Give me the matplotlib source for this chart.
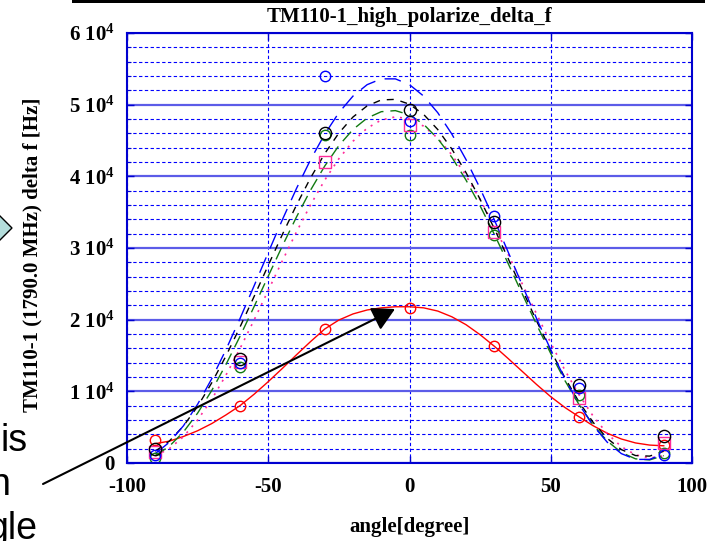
import matplotlib
matplotlib.use("Agg")
import matplotlib.pyplot as plt
from matplotlib.patches import Polygon, FancyArrowPatch, Rectangle
from matplotlib.ticker import MultipleLocator, FixedLocator

plt.rcParams['font.family'] = ['Liberation Serif', 'DejaVu Serif']
plt.rcParams['font.weight'] = 'bold'
plt.rcParams['mathtext.fontset'] = 'custom'
plt.rcParams['mathtext.rm'] = 'Liberation Serif:bold'
plt.rcParams['mathtext.bf'] = 'Liberation Serif:bold'
plt.rcParams['mathtext.it'] = 'Liberation Serif:bold'

# ---------------- data ----------------
title = "TM110-1_high_polarize_delta_f"
xlabel = "angle[degree]"
ylabel = "TM110-1 (1790.0 MHz) delta f [Hz]"

angles = [-90, -60, -30, 0, 30, 60, 90]
blue_pts = [1150, 14000, 54000, 47700, 34400, 10500, 1150]
black_pts = [2000, 14500, 46000, 49200, 33600, 10900, 3700]
green_pts = [700, 13400, 45700, 45800, 31850, 9500, 1450]
magenta_pts = [1500, 14050, 42000, 47100, 32200, 9050, 2750]
red_pts = [3250, 8000, 18700, 21650, 16300, 6450, 2550]

fit_angles = [-90, -85, -80, -75, -70, -65, -60, -55, -50, -45, -40, -35, -30,
              -25, -20, -15, -10, -5, 0, 5, 10, 15, 20, 25, 30, 35, 40, 45,
              50, 55, 60, 65, 70, 75, 80, 85, 90]
blue_fit = [1300, 2900, 5200, 8200, 11760, 15790, 20150, 24730, 29370, 33950,
            38310, 42340, 45890, 48880, 51200, 52790, 53600, 53600, 52790,
            51200, 48880, 45890, 42340, 38310, 33950, 29370, 24730, 20150,
            15790, 11760, 8200, 5220, 2900, 1310, 500, 500, 1310]
black_fit = [1640, 3060, 5170, 7900, 11190, 14910, 18970, 23240, 27590, 31890,
             36000, 39800, 43180, 46040, 48280, 49830, 50660, 50740, 50060,
             48640, 46530, 43800, 40520, 36790, 32730, 28460, 24110, 19810,
             15700, 11900, 8520, 5670, 3430, 1870, 1040, 960, 1640]
green_fit = [1030, 2340, 4340, 6960, 10120, 13720, 17670, 21830, 26080, 30290,
             34330, 38090, 41440, 44290, 46540, 48130, 49020, 49170, 48580,
             47260, 45260, 42650, 39480, 35880, 31930, 27770, 23520, 19310,
             15270, 11510, 8160, 5310, 3060, 1470, 580, 430, 1030]
magenta_fit = [990, 2000, 3680, 6000, 8890, 12240, 15970, 19960, 24090, 28220,
               32250, 36040, 39480, 42460, 44900, 46720, 47860, 48300, 48010,
               47000, 45320, 43000, 40110, 36760, 33030, 29040, 24920, 20780,
               16750, 12960, 9520, 6540, 4100, 2280, 1140, 700, 990]
red_fit = [2700, 3050, 3700, 4500, 5500, 6700, 8000, 9600, 11350, 13200, 15100,
           16950, 18700, 19950, 20800, 21350, 21650, 21800, 21800, 21650, 21200,
           20400, 19300, 17900, 16300, 14550, 12750, 10950, 9250, 7750, 6450,
           5200, 4150, 3350, 2800, 2500, 2400]

xticks = [-100, -50, 0, 50, 100]
xtick_labels = ["-100", "-50", "0", "50", "100"]
yticks = [0, 10000, 20000, 30000, 40000, 50000, 60000]
ytick_labels = ["0", r"1 $\mathrm{10^{4}}$", r"2 $\mathrm{10^{4}}$", r"3 $\mathrm{10^{4}}$",
                r"4 $\mathrm{10^{4}}$", r"5 $\mathrm{10^{4}}$", r"6 $\mathrm{10^{4}}$"]

# ---------------- figure ----------------
W, H = 710, 541
fig = plt.figure(figsize=(W / 100, H / 100), dpi=100)
L, R, T, B = 127, 692, 33, 463
ax = fig.add_axes([L / W, 1 - B / H, (R - L) / W, (B - T) / H])

ax.set_xlim(-100, 100)
ax.set_ylim(0, 60000)

# grid
ax.yaxis.set_minor_locator(MultipleLocator(2000))
ax.grid(which='major', axis='y', color='#5c5ce8', lw=1.6, ls='-', zorder=0)
ax.grid(which='minor', axis='y', color='#0000ff', lw=0.8, ls=(0, (3, 2.2)), zorder=0)
ax.grid(which='major', axis='x', color='#0000ff', lw=0.8, ls=(0, (3, 2.2)), zorder=0)
ax.set_axisbelow(True)

# fit curves
ax.plot(fit_angles, red_fit, color='#ff0000', lw=1.0, ls='-')
ax.plot(fit_angles, magenta_fit, color='#ff2a9a', lw=1.2, ls=(0, (1.2, 3.5)))
ax.plot(fit_angles, green_fit, color='#117a11', lw=1.0, ls=(0, (9, 5)))
ax.plot(fit_angles, black_fit, color='#000000', lw=1.0, ls=(0, (5, 5)))
ax.plot(fit_angles, blue_fit, color='#0000ff', lw=1.0, ls=(0, (12, 7)))

# data points
ax.plot(angles, red_pts, ls='none', marker='o', ms=7.5, mfc='none', mec='#ff0000', mew=1.0)
ax.plot(angles, green_pts, ls='none', marker='o', ms=7.5, mfc='none', mec='#117a11', mew=1.0)
ax.plot(angles, magenta_pts, ls='none', marker='s', ms=8.5, mfc='none', mec='#ff2a9a', mew=1.0)
ax.plot(angles, blue_pts, ls='none', marker='o', ms=7.5, mfc='none', mec='#0000ff', mew=1.0)
ax.plot(angles, black_pts, ls='none', marker='o', ms=8.8, mfc='none', mec='#000000', mew=1.0)

# axes styling
for s in ax.spines.values():
    s.set_color('#0000d0')
    s.set_linewidth(1.5)
ax.xaxis.set_major_locator(FixedLocator(xticks))
ax.set_xticklabels(xtick_labels)
ax.yaxis.set_major_locator(FixedLocator(yticks))
ax.set_yticklabels(ytick_labels)
ax.tick_params(which='both', direction='in', color='#0000d0', top=True, right=True,
               labelsize=15)
ax.tick_params(which='major', length=5, width=1)
ax.tick_params(which='minor', length=3, width=0.8)
ax.tick_params(axis='y', pad=9)
ax.tick_params(axis='x', pad=10)

ax.set_title(title, fontsize=15, fontweight='bold', y=(B - 17) / (B - T), va='center', pad=0)
ax.set_xlabel(xlabel, fontsize=15, fontweight='bold', va='center')
ax.xaxis.set_label_coords(0.5, (B - 527) / (B - T))
ax.set_ylabel(ylabel, fontsize=15, fontweight='bold', va='center', ha='center',
              rotation_mode='default')
ax.yaxis.set_label_coords((32 - L) / (R - L), (B - 255) / (B - T))

# ---------------- slide decorations ----------------
fig.add_artist(Rectangle((72 / W, 1 - 3 / H), (705 - 72) / W, 3 / H,
                         transform=fig.transFigure, fc='black', ec='none'))
fig.add_artist(Polygon([[-6 / W, 1 - 210 / H], [12 / W, 1 - 228 / H], [-6 / W, 1 - 246 / H]],
                       closed=True, transform=fig.transFigure, fc='#b4dedc', ec='black', lw=1))
txt_kw = dict(family=['Liberation Sans', 'DejaVu Sans'], fontsize=27, fontweight='normal',
              va='baseline', ha='right')
fig.text(28 / W, 1 - 451 / H, "is", **txt_kw)
fig.text(10 / W, 1 - 495 / H, "n", **txt_kw)
fig.text(37 / W, 1 - 539 / H, "gle", **txt_kw)

fig.add_artist(FancyArrowPatch(posA=(43 / W, 1 - 484 / H), posB=(395 / W, 1 - 309 / H),
                               transform=fig.transFigure,
                               arrowstyle='-|>,head_length=13.7,head_width=7.5',
                               mutation_scale=1, lw=1.5, color='black',
                               shrinkA=0, shrinkB=0))

fig.savefig("out.png", dpi=100)
